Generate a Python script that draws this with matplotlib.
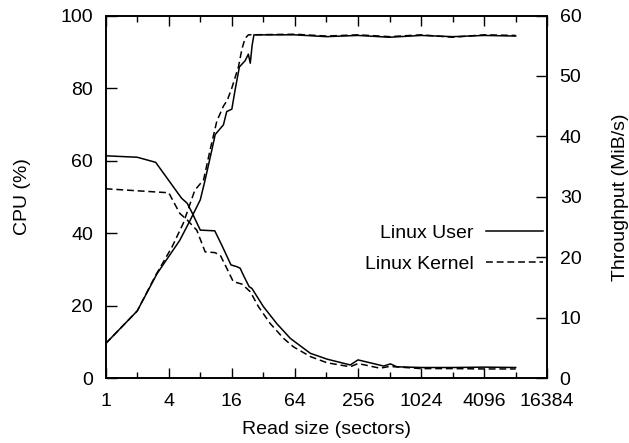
import matplotlib
matplotlib.use("Agg")
import matplotlib.pyplot as plt
from matplotlib.lines import Line2D
from matplotlib.ticker import NullFormatter

plt.rcParams["font.family"] = ["Liberation Sans", "DejaVu Sans"]
plt.rcParams["font.size"] = 14

# CPU usage (%) vs read size (sectors)
user_cpu_x = [1, 2, 3, 5.3, 6, 6.6, 8, 11, 12.8, 15.7, 17.9, 19.2, 20.6, 23.4, 24.9,
              32, 43, 58, 90, 130, 216, 256, 450, 522, 600, 1024, 2048, 4096, 8192]
user_cpu = [61.3, 60.9, 59.5, 49.6, 48.2, 45.9, 40.8, 40.6, 36.7, 31.2, 30.7, 30.3, 28.4, 25.2, 24.7,
            19.7, 15.0, 10.9, 6.8, 5.2, 3.6, 5.0, 3.3, 3.9, 3.1, 2.9, 2.9, 3.0, 2.9]

kernel_cpu_x = [1, 4, 5.1, 6, 6.9, 7.4, 8.9, 11, 12.4, 14.3, 16.5, 20, 24, 28.7,
                37, 50, 62, 90, 130, 216, 256, 416, 512, 1024, 2048, 4096, 8192]
kernel_cpu = [52.2, 51.1, 45.4, 43.6, 41.7, 40.8, 34.8, 34.6, 33.9, 30.3, 26.6, 25.9, 23.8, 19.7,
              15.1, 10.9, 8.6, 5.9, 4.2, 3.1, 4.0, 2.7, 3.2, 2.6, 2.6, 2.5, 2.5]

# Throughput (MiB/s) vs read size (sectors)
user_tp_x = [1, 2, 3.1, 5.1, 6.4, 8, 8.9, 10.3, 11.1, 13.3, 14.3, 16, 17.2, 18.9, 21.4,
             23, 24, 25, 26, 64, 128, 256, 512, 1024, 2048, 4096, 8192]
user_tp = [5.7, 11.1, 17.3, 22.8, 26.1, 29.5, 32.8, 37.7, 40.3, 41.9, 44.1, 44.5, 47.7, 51.5, 52.5,
           53.6, 52.1, 55.1, 56.8, 56.8, 56.5, 56.7, 56.4, 56.7, 56.5, 56.7, 56.6]

kernel_tp_x = [1, 2, 3, 4.3, 5.5, 7.1, 8.6, 10, 11.5, 13.3, 14.5, 16, 18.5, 20, 21.4,
               23, 64, 128, 256, 512, 1024, 2048, 4096, 8192]
kernel_tp = [5.7, 11.1, 17.0, 21.7, 25.6, 31.1, 32.8, 38.0, 42.5, 45.0, 46.0, 48.0, 51.5, 54.5, 56.2,
             56.8, 56.9, 56.6, 56.8, 56.5, 56.8, 56.4, 56.8, 56.7]

major_x = [1, 4, 16, 64, 256, 1024, 4096, 16384]
minor_x = [2, 8, 32, 128, 512, 2048, 8192]

fig = plt.figure(figsize=(6.29, 4.43), dpi=100)
ax = fig.add_axes([0.168, 0.1467, 0.702, 0.8183])
ax2 = ax.twinx()

dash = (0, (4.5, 2.5))
ax.plot(user_cpu_x, user_cpu, color="black", lw=1.1)
ax.plot(kernel_cpu_x, kernel_cpu, color="black", lw=1.1, linestyle=dash)
ax2.plot(user_tp_x, user_tp, color="black", lw=1.1)
ax2.plot(kernel_tp_x, kernel_tp, color="black", lw=1.1, linestyle=dash)

ax.set_xscale("log", base=2)
ax.set_xlim(1, 16384)
ax.set_xticks(major_x)
ax.set_xticklabels([str(v) for v in major_x])
ax.set_xticks(minor_x, minor=True)
ax.xaxis.set_minor_formatter(NullFormatter())
ax.set_ylim(0, 100)
ax.set_yticks(range(0, 101, 20))
ax2.set_ylim(0, 60)
ax2.set_yticks(range(0, 61, 10))

ax.tick_params(axis="x", which="major", direction="in", top=True, length=7, width=1, pad=11)
ax.tick_params(axis="x", which="minor", direction="in", top=True, length=4, width=1)
ax.tick_params(axis="y", direction="in", left=True, right=False, length=8, width=1, pad=9)
ax2.tick_params(axis="y", direction="in", right=True, length=8, width=1, pad=9)

for a in (ax, ax2):
    for s in a.spines.values():
        s.set_linewidth(1.2)

ax.set_xlabel("Read size (sectors)", labelpad=8)
ax.set_ylabel("CPU (%)", labelpad=21)
ax2.set_ylabel("Throughput (MiB/s)", labelpad=22)

handles = [Line2D([], [], color="black", lw=1.1),
           Line2D([], [], color="black", lw=1.1, linestyle=dash)]
ax2.legend(handles, ["Linux User", "Linux Kernel"], loc="center right",
           bbox_to_anchor=(0.99, 0.357), frameon=False, markerfirst=False,
           handlelength=2.9, handletextpad=0.65, labelspacing=0.65,
           borderpad=0, borderaxespad=0)

fig.savefig("out.png", dpi=100)
